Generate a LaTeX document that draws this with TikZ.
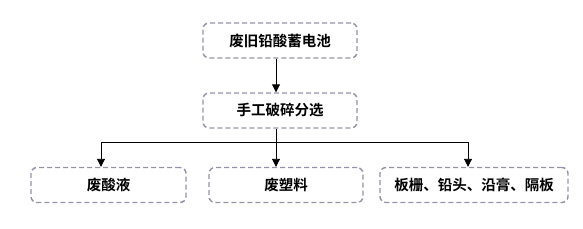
\documentclass[tikz,border=0pt]{standalone}
\usepackage{fontspec}
\newfontfamily\cjk{Noto Sans CJK SC}[BoldFont={Noto Sans CJK SC Bold}]
\usetikzlibrary{arrows.meta}
\definecolor{boxline}{RGB}{150,145,168}
\begin{document}
\begin{tikzpicture}[x=1pt,y=-1pt,
  box/.style={draw=boxline,line width=1.4pt,dash pattern=on 5pt off 3pt,rounded corners=6pt,minimum height=35pt,inner sep=0pt,font=\cjk\bfseries\fontsize{14.5pt}{16pt}\selectfont},
  conn/.style={draw=black,line width=0.9pt,-{Triangle[length=8pt,width=8pt]}}]
\useasboundingbox (0,0) rectangle (583,228);
\node[box,minimum width=154pt] (a) at (280,40.5) {废旧铅酸蓄电池};
\node[box,minimum width=154pt] (b) at (280,110.5) {手工破碎分选};
\node[box,minimum width=155pt] (c) at (108.5,185) {废酸液};
\node[box,minimum width=154pt] (d) at (286,185) {废塑料};
\node[box,minimum width=188pt] (e) at (474,185) {板栅、铅头、沿膏、隔板};
\coordinate (j) at (276,142);
\draw[conn] ([xshift=-4pt]a.south) -- ([xshift=-4pt]b.north);
\draw[line width=0.9pt] ([xshift=-4pt]b.south) -- (j);
\draw[conn] (j) -| ([xshift=-7.5pt]c.north);
\draw[conn] (j) -- ([xshift=-10pt]d.north);
\draw[conn] (j) -| ([xshift=-6pt]e.north);
\end{tikzpicture}
\end{document}
